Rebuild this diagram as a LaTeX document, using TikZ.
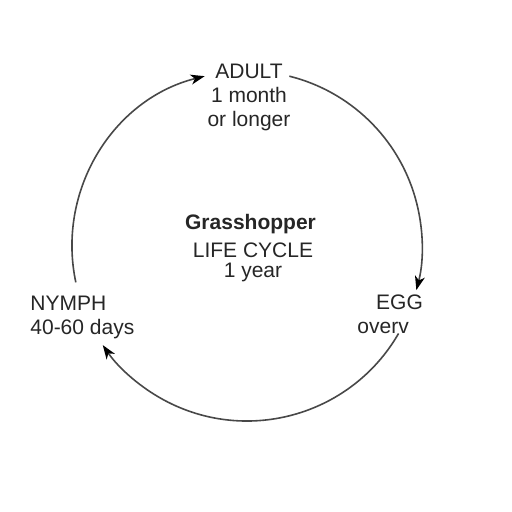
\documentclass[tikz,border=0pt]{standalone}
\usepackage{fontspec}
\setmainfont{Liberation Sans}
\usetikzlibrary{arrows.meta, calc, positioning}
\definecolor{inkgray}{HTML}{262626}
\definecolor{linegray}{HTML}{484848}
\tikzset{
    stage/.style={inner sep=0pt, text=inkgray, font=\fontsize{10.5}{12}\selectfont},
    cyclearrow/.style={draw=linegray, line width=0.8pt, -{Stealth[length=7pt, width=5pt, inset=2pt, color=black]}}
}
\newcommand{\cycler}{87.5pt}
\newcommand{\stagearc}[3]{
    \coordinate (#1) at ($(c) + (#2:\cycler)$);
    \draw[cyclearrow] (#1) arc[start angle=#2, end angle=#3, radius=\cycler];
}

\begin{document}
\begin{tikzpicture}[x=0.5pt, y=0.5pt]
    \useasboundingbox (0, 0) rectangle (512, 512);
    \coordinate (c) at (247, 266);
    % stages
    \node[stage, align=center] (adult) at (249, 415) {ADULT\\1 month\\or longer};
    \node[stage, font=\fontsize{10.5}{12}\selectfont\bfseries] (title) at (250.5, 288) {Grasshopper};
    \node[stage, align=center] (span) at (253, 250) {LIFE CYCLE\\[-2pt]1 year};
    \node[stage, align=left, anchor=west] (nymph) at (30, 195) {NYMPH\\40-60 days};
    \node[stage] (egg) at (399.5, 210) {EGG};
    \node[stage, anchor=west] (egg-note) at (357, 184) {overv};
    % cycle
    \stagearc{nymph-out}{192}{104}
    \stagearc{adult-out}{76}{-14.6}
    \stagearc{egg-out}{-30}{-145.5}
\end{tikzpicture}
\end{document}
